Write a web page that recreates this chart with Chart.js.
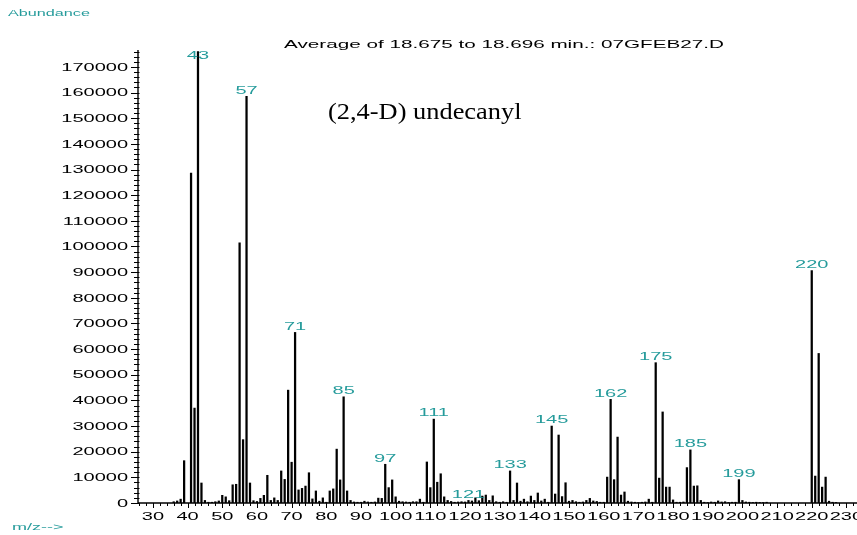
<!DOCTYPE html>
<html><head><meta charset="utf-8">
<script src="https://cdn.jsdelivr.net/npm/chart.js@4"></script>
<style>html,body{margin:0;padding:0;background:#fff}#wrap{width:857px;height:535px;position:relative}</style>
</head><body><div id="wrap"><canvas id="c" width="857" height="535"></canvas></div>
<script>
// ---- data ----
const mzValues = [36,37,38,39,41,42,43,44,45,46,47,48,49,50,51,52,53,54,55,56,57,58,59,60,61,62,63,64,65,66,67,68,69,70,71,72,73,74,75,76,77,78,79,80,81,82,83,84,85,86,87,88,89,90,91,92,93,94,95,96,97,98,99,100,101,102,103,104,105,106,107,108,109,110,111,112,113,114,115,116,117,118,119,120,121,122,123,124,125,126,127,128,129,130,131,132,133,134,135,136,137,138,139,140,141,142,143,144,145,146,147,148,149,150,151,152,153,154,155,156,157,158,159,160,161,162,163,164,165,166,167,168,169,170,171,172,173,174,175,176,177,178,179,180,181,182,183,184,185,186,187,188,189,190,191,192,193,194,195,196,197,198,199,200,201,202,203,204,205,206,207,220,221,222,223,224,225,226,227];
const abundances = [500,800,1500,16500,128600,37000,176000,7800,1000,300,300,500,800,3000,2400,900,7100,7300,101400,24700,158500,7800,900,600,1800,3000,10800,1000,2000,1000,12500,9200,44000,15900,66500,5100,5700,6600,11800,1600,4700,700,2000,300,4700,5500,21000,9000,41400,4700,1000,400,300,300,700,400,300,400,1900,1800,15100,6000,9000,2400,700,500,400,300,500,500,1500,300,16000,6000,32700,8100,11400,2400,1000,600,300,400,500,400,1000,800,2000,900,2700,3100,1000,2800,500,300,500,300,12500,1000,7800,700,1500,500,2700,1000,3900,800,1500,300,30000,3500,26500,2500,7900,700,1000,500,300,400,1000,1800,800,600,300,300,10100,40400,9100,25700,3100,4300,700,400,300,200,300,400,1500,300,54700,9700,35500,6200,6200,1200,300,300,400,13800,20700,6600,6700,1000,300,200,400,300,800,400,500,200,300,300,9100,1000,400,300,200,300,200,200,300,90600,10500,58300,6200,10100,700,300,200];
const labeledPeaks = [43,57,71,85,97,111,121,133,145,162,175,185,199,220];
const xTickLabels = [30,40,50,60,70,80,90,100,110,120,130,140,150,160,170,180,190,200,210,220,230];
const yTickValues = [0,10000,20000,30000,40000,50000,60000,70000,80000,90000,100000,110000,120000,130000,140000,150000,160000,170000];
const titleText = "Average of 18.675 to 18.696 min.: 07GFEB27.D";
const compoundName = "(2,4-D) undecanyl";
const yAxisTitle = "Abundance";
const xAxisTitle = "m/z-->";

const TEAL = '#259b9b';
const SANS = '"Liberation Sans", Arial, sans-serif';

function stext(ctx, str, x, y, size, sx, align, color, family) {
  ctx.save();
  ctx.font = size + 'px ' + (family || SANS);
  ctx.fillStyle = color;
  ctx.textBaseline = 'middle';
  ctx.textAlign = 'left';
  const w = ctx.measureText(str).width * sx;
  const left = align === 'center' ? x - w / 2 : (align === 'right' ? x - w : x);
  ctx.translate(left, y);
  ctx.scale(sx, 1);
  ctx.fillText(str, 0, 0);
  ctx.restore();
}

const decor = {
  id: 'decor',
  afterDatasetsDraw(chart) {
    const ctx = chart.ctx;
    const xs = chart.scales.x, ys = chart.scales.y;
    const ca = chart.chartArea;
    const y0 = ys.getPixelForValue(0);
    ctx.save();
    ctx.strokeStyle = '#000';
    ctx.lineWidth = 1.4;
    // axes
    ctx.beginPath();
    ctx.moveTo(ca.left, ca.top); ctx.lineTo(ca.left, y0);
    ctx.moveTo(ca.left, y0); ctx.lineTo(ca.right, y0);
    ctx.stroke();
    // y ticks: major every 10000, minor every 2000
    ctx.lineWidth = 1;
    for (let v = 0; v <= ys.max; v += 2000) {
      const py = Math.round(ys.getPixelForValue(v)) + 0.5;
      const major = v % 10000 === 0;
      ctx.beginPath();
      ctx.moveTo(ca.left - (major ? 7 : 4), py);
      ctx.lineTo(ca.left + 1.5, py);
      ctx.stroke();
    }
    // x ticks: major every 10, minor every 2
    for (let m = 26; m <= xs.max; m += 2) {
      const px = Math.round(xs.getPixelForValue(m)) + 0.5;
      if (px < ca.left) continue;
      const major = m % 10 === 0;
      ctx.beginPath();
      ctx.moveTo(px, y0);
      ctx.lineTo(px, y0 + (major ? 5 : 3));
      ctx.stroke();
    }
    ctx.restore();
    // y tick labels
    yTickValues.forEach(v => {
      stext(ctx, String(v), ca.left - 10, ys.getPixelForValue(v) + 1, 10, 2.0, 'right', '#000');
    });
    // x tick labels
    xTickLabels.forEach(v => {
      stext(ctx, String(v), xs.getPixelForValue(v), y0 + 14, 10, 2.0, 'center', '#000');
    });
    // peak labels
    labeledPeaks.forEach(m => {
      const i = mzValues.indexOf(m);
      if (i < 0) return;
      const top = ys.getPixelForValue(abundances[i]);
      const ly = Math.max(top - 5.5, 56);
      stext(ctx, String(m), xs.getPixelForValue(m), ly, 10, 2.0, 'center', TEAL);
    });
    // titles
    stext(ctx, yAxisTitle, 8, 14, 9, 1.8, 'left', TEAL);
    stext(ctx, xAxisTitle, 12, 528, 9, 2.0, 'left', TEAL);
    stext(ctx, titleText, 284, 45, 11, 1.88, 'left', '#000');
    stext(ctx, compoundName, 328, 113, 24, 1.1, 'left', '#000', '"Liberation Serif", "Times New Roman", serif');
  }
};

new Chart(document.getElementById('c'), {
  type: 'bar',
  data: {
    datasets: [{
      data: mzValues.map((m, i) => ({ x: m, y: abundances[i] })),
      backgroundColor: '#000',
      borderWidth: 0,
      barThickness: 1.6
    }]
  },
  options: {
    responsive: false,
    animation: false,
    devicePixelRatio: 1,
    layout: { padding: { left: 138, right: 0, top: 50, bottom: 32 } },
    scales: {
      x: { type: 'linear', display: false, min: 25.7, max: 233.05, offset: false },
      y: { type: 'linear', display: false, min: 0, max: 176600 }
    },
    plugins: { legend: { display: false }, tooltip: { enabled: false } }
  },
  plugins: [decor]
});
</script>
</body></html>
